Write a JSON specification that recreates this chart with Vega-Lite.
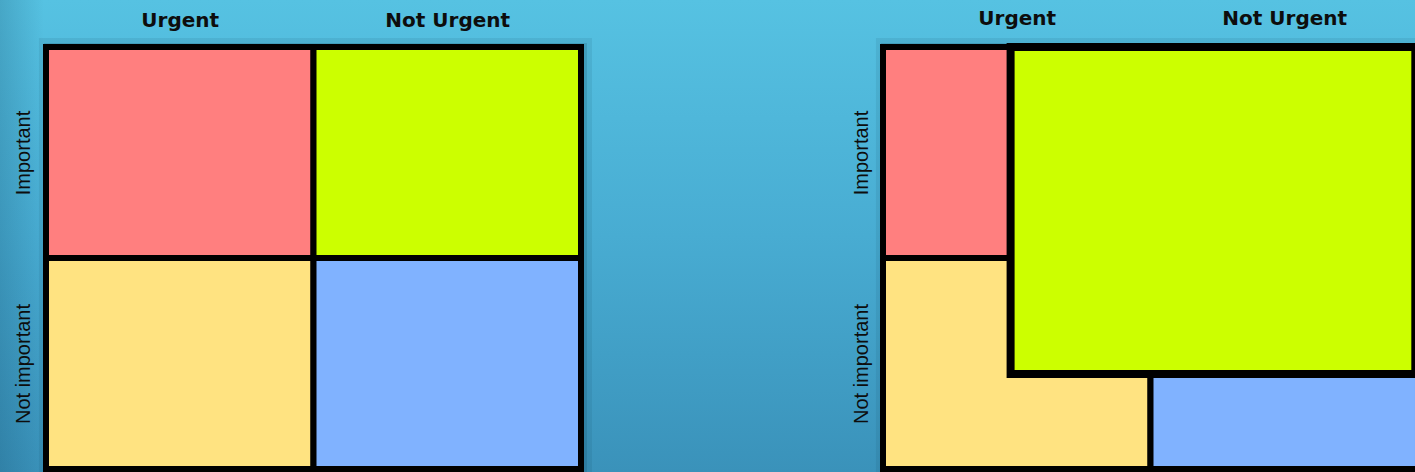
{
  "$schema": "https://vega.github.io/schema/vega-lite/v6.json",
  "padding": 0,
  "spacing": 0,
  "background": "#4aafd3",
  "config": {
    "view": {"stroke": null, "fill": {"gradient": "linear", "x1": 0, "y1": 0, "x2": 0, "y2": 1, "stops": [{"offset": 0, "color": "#56c2e2"}, {"offset": 0.5, "color": "#48acd2"}, {"offset": 1, "color": "#3a92ba"}]}},
    "concat": {"spacing": 0}
  },
  "datasets": {
    "before": [
      {"quadrant": "Urgent & important", "u0": 0, "u1": 1, "v0": 0, "v1": 1},
      {"quadrant": "Not urgent & important", "u0": 1, "u1": 2, "v0": 0, "v1": 1},
      {"quadrant": "Urgent & not important", "u0": 0, "u1": 1, "v0": 1, "v1": 2},
      {"quadrant": "Not urgent & not important", "u0": 1, "u1": 2, "v0": 1, "v1": 2}
    ],
    "after": [
      {"quadrant": "Urgent & important", "u0": 0, "u1": 1, "v0": 0, "v1": 1},
      {"quadrant": "Urgent & not important", "u0": 0, "u1": 1, "v0": 1, "v1": 2},
      {"quadrant": "Not urgent & not important", "u0": 1, "u1": 2, "v0": 1, "v1": 2},
      {"quadrant": "Not urgent & important", "u0": 0.477, "u1": 1.99, "v0": 0, "v1": 1.55}
    ]
  },
  "hconcat": [
    {
      "width": 730,
      "height": 472,
      "encoding": {
        "x": {"field": "u0", "type": "quantitative", "scale": {"domain": [-0.17196, 2.55701], "nice": false, "zero": false},
          "axis": {"orient": "top", "values": [0.5, 1.5], "labelExpr": "datum.value < 1 ? 'Urgent' : 'Not Urgent'", "domain": false, "ticks": false, "tickSize": 0, "grid": false, "title": null, "labelPadding": 0, "labelBaseline": "middle", "labelAlign": "center", "labelFont": "DejaVu Sans", "labelFontWeight": "bold", "labelFontSize": 20, "labelColor": "#0d0d0d", "labelFlush": false, "labelOverlap": false, "offset": -20, "zindex": 2}},
        "x2": {"field": "u1"},
        "y": {"field": "v0", "type": "quantitative", "scale": {"domain": [-0.2227, 2.0142], "nice": false, "zero": false, "reverse": true},
          "axis": {"orient": "left", "values": [0.5, 1.5], "labelExpr": "datum.value < 1 ? 'Important' : 'Not important'", "domain": false, "ticks": false, "tickSize": 0, "grid": false, "title": null, "labelPadding": 0, "labelAngle": 270, "labelBaseline": "middle", "labelAlign": "center", "labelFont": "Liberation Sans", "labelFontSize": 20, "labelColor": "#0d0d0d", "labelFlush": false, "labelOverlap": false, "offset": -23, "zindex": 2}},
        "y2": {"field": "v1"}
      },
      "layer": [
        {
          "data": {"values": [{}]},
          "mark": {"type": "rect", "clip": true, "color": {"gradient": "linear", "x1": 0, "y1": 0, "x2": 1, "y2": 0, "stops": [{"offset": 0, "color": "rgba(10,60,90,0.2)"}, {"offset": 0.06, "color": "rgba(10,60,90,0)"}, {"offset": 1, "color": "rgba(10,60,90,0)"}]}},
          "encoding": {"x": {"value": 0}, "x2": {"value": "width"}, "y": {"value": 0}, "y2": {"value": "height"}}
        },
        {
          "data": {"name": "before"},
          "transform": [{"aggregate": [{"op": "min", "field": "u0", "as": "u0"}, {"op": "max", "field": "u1", "as": "u1"}, {"op": "min", "field": "v0", "as": "v0"}, {"op": "max", "field": "v1", "as": "v1"}]}],
          "mark": {"type": "rect", "clip": true, "fill": "#0b3a4f", "stroke": "#0b3a4f", "strokeWidth": 22, "opacity": 0.09, "xOffset": 4, "yOffset": 2}
        },
        {
          "data": {"name": "before"},
          "transform": [{"aggregate": [{"op": "min", "field": "u0", "as": "u0"}, {"op": "max", "field": "u1", "as": "u1"}, {"op": "min", "field": "v0", "as": "v0"}, {"op": "max", "field": "v1", "as": "v1"}]}],
          "mark": {"type": "rect", "clip": true, "fill": "#0b3a4f", "stroke": "#0b3a4f", "strokeWidth": 12, "opacity": 0.16, "xOffset": 4, "yOffset": 2}
        },
        {
          "data": {"name": "before"},
          "mark": {"type": "rect", "clip": true, "stroke": "#000000", "strokeWidth": 6, "opacity": 1},
          "encoding": {
            "color": {"field": "quadrant", "type": "nominal", "scale": {"domain": ["Urgent & important", "Not urgent & important", "Urgent & not important", "Not urgent & not important"], "range": ["#ff7f7f", "#ccff00", "#ffe381", "#80b2ff"]}, "legend": null}
          }
        }
      ]
    },
    {
      "width": 685,
      "height": 472,
      "encoding": {
        "x": {"field": "u0", "type": "quantitative", "scale": {"domain": [-0.57196, 1.98879], "nice": false, "zero": false},
          "axis": {"orient": "top", "values": [0.5, 1.5], "labelExpr": "datum.value < 1 ? 'Urgent' : 'Not Urgent'", "domain": false, "ticks": false, "tickSize": 0, "grid": false, "title": null, "labelPadding": 0, "labelBaseline": "middle", "labelAlign": "center", "labelFont": "DejaVu Sans", "labelFontWeight": "bold", "labelFontSize": 20, "labelColor": "#0d0d0d", "labelFlush": false, "labelOverlap": false, "offset": -18, "zindex": 2}},
        "x2": {"field": "u1"},
        "y": {"field": "v0", "type": "quantitative", "scale": {"domain": [-0.2227, 2.0142], "nice": false, "zero": false, "reverse": true},
          "axis": {"orient": "left", "values": [0.5, 1.5], "labelExpr": "datum.value < 1 ? 'Important' : 'Not important'", "domain": false, "ticks": false, "tickSize": 0, "grid": false, "title": null, "labelPadding": 0, "labelAngle": 270, "labelBaseline": "middle", "labelAlign": "center", "labelFont": "Liberation Sans", "labelFontSize": 20, "labelColor": "#0d0d0d", "labelFlush": false, "labelOverlap": false, "offset": -131, "zindex": 2}},
        "y2": {"field": "v1"}
      },
      "layer": [
        {
          "data": {"name": "after"},
          "transform": [{"aggregate": [{"op": "min", "field": "u0", "as": "u0"}, {"op": "max", "field": "u1", "as": "u1"}, {"op": "min", "field": "v0", "as": "v0"}, {"op": "max", "field": "v1", "as": "v1"}]}],
          "mark": {"type": "rect", "clip": true, "fill": "#0b3a4f", "stroke": "#0b3a4f", "strokeWidth": 22, "opacity": 0.09, "xOffset": 4, "yOffset": 2}
        },
        {
          "data": {"name": "after"},
          "transform": [{"aggregate": [{"op": "min", "field": "u0", "as": "u0"}, {"op": "max", "field": "u1", "as": "u1"}, {"op": "min", "field": "v0", "as": "v0"}, {"op": "max", "field": "v1", "as": "v1"}]}],
          "mark": {"type": "rect", "clip": true, "fill": "#0b3a4f", "stroke": "#0b3a4f", "strokeWidth": 12, "opacity": 0.16, "xOffset": 4, "yOffset": 2}
        },
        {
          "data": {"name": "after"},
          "transform": [{"filter": "datum.quadrant !== 'Not urgent & important'"}],
          "mark": {"type": "rect", "clip": true, "stroke": "#000000", "strokeWidth": 6, "opacity": 1},
          "encoding": {
            "color": {"field": "quadrant", "type": "nominal", "scale": {"domain": ["Urgent & important", "Not urgent & important", "Urgent & not important", "Not urgent & not important"], "range": ["#ff7f7f", "#ccff00", "#ffe381", "#80b2ff"]}, "legend": null}
          }
        },
        {
          "data": {"name": "after"},
          "transform": [{"filter": "datum.quadrant === 'Not urgent & important'"}],
          "mark": {"type": "rect", "clip": true, "stroke": "#000000", "strokeWidth": 8, "opacity": 1},
          "encoding": {
            "color": {"field": "quadrant", "type": "nominal", "scale": {"domain": ["Urgent & important", "Not urgent & important", "Urgent & not important", "Not urgent & not important"], "range": ["#ff7f7f", "#ccff00", "#ffe381", "#80b2ff"]}, "legend": null}
          }
        }
      ]
    }
  ]
}
